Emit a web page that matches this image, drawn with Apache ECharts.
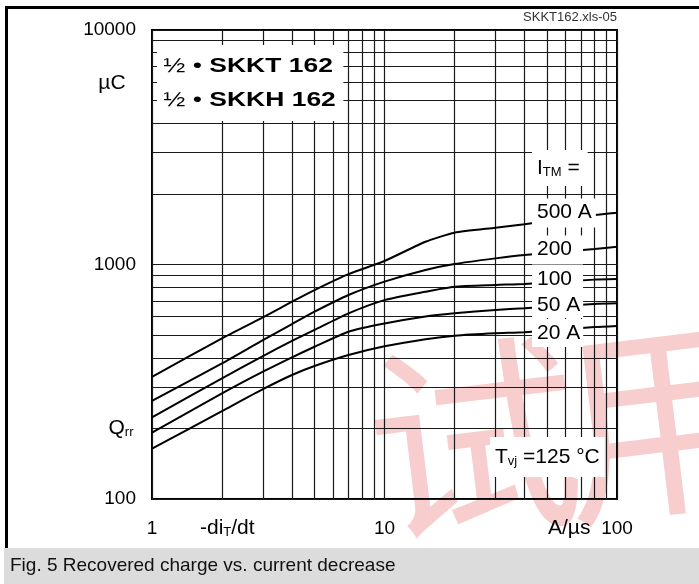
<!DOCTYPE html>
<html>
<head>
<meta charset="utf-8">
<script src="https://cdn.jsdelivr.net/npm/echarts@6/dist/echarts.min.js"></script>
<style>
html, body { margin: 0; padding: 0; background: #fff; }
#chart { width: 699px; height: 584px; }
</style>
</head>
<body>
<div id="chart"></div>
<script>
// -di/dt in A/µs (shared x values for all curves)
const diRate = [1, 2, 3, 4, 5, 7, 10, 15, 20, 30, 40, 80, 100];
// Qrr in µC, one array per I_TM
const qrr500 = [332, 484, 595, 694, 778, 910, 1035, 1250, 1366, 1435, 1485, 1626, 1663];
const qrr200 = [262, 379, 476, 557, 629, 741, 845, 948, 1005, 1062, 1098, 1165, 1191];
const qrr100 = [223, 327, 407, 472, 526, 619, 705, 765, 804, 818, 826, 862, 867];
const qrr50  = [192, 282, 349, 402, 446, 517, 560, 600, 619, 640, 651, 679, 683];
const qrr20  = [164, 237, 294, 338, 369, 411, 448, 480, 497, 509, 514, 541, 547];
const curveNames = ['500 A', '200', '100', '50 A', '20 A'];
const curves = [qrr500, qrr200, qrr100, qrr50, qrr20];

const FONT = '"Liberation Sans", Arial, Helvetica, sans-serif';
const rich = {
  m: { font: '21px ' + FONT, fill: '#000', lineHeight: 22 },
  s: { font: '13px ' + FONT, fill: '#000', lineHeight: 10, verticalAlign: 'bottom' },
  n: { font: '21px ' + FONT, fill: '#000', lineHeight: 34 },
  b: { font: 'bold 21px ' + FONT, fill: '#000', lineHeight: 34 }
};

// white boxed label inside the plot
function boxLabel(x, y, text, padding, extra) {
  return Object.assign({
    type: 'text', x: x, y: y, z: 100, silent: true,
    style: { text: text, rich: rich, verticalAlign: 'middle', backgroundColor: '#fff', padding: padding }
  }, extra || {});
}
// plain label outside the plot
function plainLabel(x, y, text, align) {
  return {
    type: 'text', x: x, y: y, z: 100, silent: true,
    style: { text: text, rich: rich, align: align || 'left', verticalAlign: 'middle' }
  };
}
// watermark glyph
function stamp(x, y, ch) {
  return { type: 'text', x: x, y: y, rotation: 0.12, z: -1, silent: true,
    style: { text: ch, font: '212px "Noto Sans CJK SC"', fill: 'rgba(225,60,60,0.26)', verticalAlign: 'middle' } };
}

const chart = echarts.init(document.getElementById('chart'), null, { renderer: 'canvas' });

const gridLine = { color: '#1a1a1a', width: 1.2 };

chart.setOption({
  animation: false,
  backgroundColor: '#fff',
  grid: {
    left: 152, top: 30, right: 82, bottom: 85,
    containLabel: false, outerBoundsMode: 'none',
    show: true, borderColor: '#000', borderWidth: 2
  },
  xAxis: {
    type: 'log', logBase: 10, min: 1, max: 100,
    axisLine: { show: false }, axisTick: { show: false },
    axisLabel: { fontSize: 19, fontFamily: FONT, color: '#000', margin: 20,
      formatter: v => String(Math.round(v)) },
    splitLine: { show: true, lineStyle: gridLine },
    minorTick: { show: false, splitNumber: 9 },
    minorSplitLine: { show: true, lineStyle: gridLine }
  },
  yAxis: {
    type: 'log', logBase: 10, min: 100, max: 10000,
    axisLine: { show: false }, axisTick: { show: false },
    axisLabel: { fontSize: 19, fontFamily: FONT, color: '#000', margin: 16,
      formatter: v => String(Math.round(v)) },
    splitLine: { show: true, lineStyle: gridLine },
    minorTick: { show: false, splitNumber: 9 },
    minorSplitLine: { show: true, lineStyle: gridLine }
  },
  series: curves.map((vals, i) => ({
    type: 'line',
    name: curveNames[i],
    data: diRate.map((x, j) => [x, vals[j]]),
    showSymbol: false,
    smooth: 0.2,
    silent: true,
    lineStyle: { color: '#000', width: 2 }
  })),
  graphic: {
    elements: [
      // watermark
      stamp(368, 452, '试'),
      stamp(560, 432, '用'),
      // frame + caption
      { type: 'rect', z: 100, silent: true, shape: { x: 4, y: 548, width: 695, height: 36 }, style: { fill: '#dcdcdc' } },
      { type: 'line', z: 100, silent: true, shape: { x1: 6.5, y1: 6, x2: 6.5, y2: 548 }, style: { stroke: '#000', lineWidth: 3 } },
      { type: 'line', z: 100, silent: true, shape: { x1: 5, y1: 7.5, x2: 699, y2: 7.5 }, style: { stroke: '#000', lineWidth: 3 } },
      { type: 'text', x: 10, y: 566, z: 101, silent: true,
        style: { text: 'Fig. 5 Recovered charge vs. current decrease', font: '19px ' + FONT, fill: '#111', verticalAlign: 'middle' } },
      { type: 'text', x: 617, y: 17, z: 100, silent: true,
        style: { text: 'SKKT162.xls-05', font: '13px ' + FONT, fill: '#333', align: 'right', verticalAlign: 'middle' } },
      // device box
      boxLabel(157, 83, '{n|½ • }{b|SKKT 162}\n{n|½ • }{b|SKKH 162}', [4, 6, 4, 5], { scaleX: 1.26 }),
      // curve labels
      boxLabel(532, 168, '{m|I}{s|TM}{m| =}', [7, 8, 7, 5]),
      boxLabel(532, 213, '{m|500 A}', [3, 4, 4, 5]),
      boxLabel(532, 250, '{m|200}', [3, 11, 4, 5]),
      boxLabel(532, 279.5, '{m|100}', [3, 11, 4, 5]),
      boxLabel(532, 305, '{m|50 A}', [2, 3, 2, 5]),
      boxLabel(532, 333, '{m|20 A}', [3, 3, 3, 5]),
      boxLabel(490, 457, '{m|T}{s|vj}{m| =125 °C}', [9, 5, 9, 5]),
      // axis titles
      plainLabel(112, 83, '{m|µC}', 'center'),
      plainLabel(121, 428, '{m|Q}{s|rr}', 'center'),
      plainLabel(200, 528, '{m|-di}{s|T}{m|/dt}'),
      plainLabel(548, 528, '{m|A/µs}')
    ]
  }
});
</script>
</body>
</html>
